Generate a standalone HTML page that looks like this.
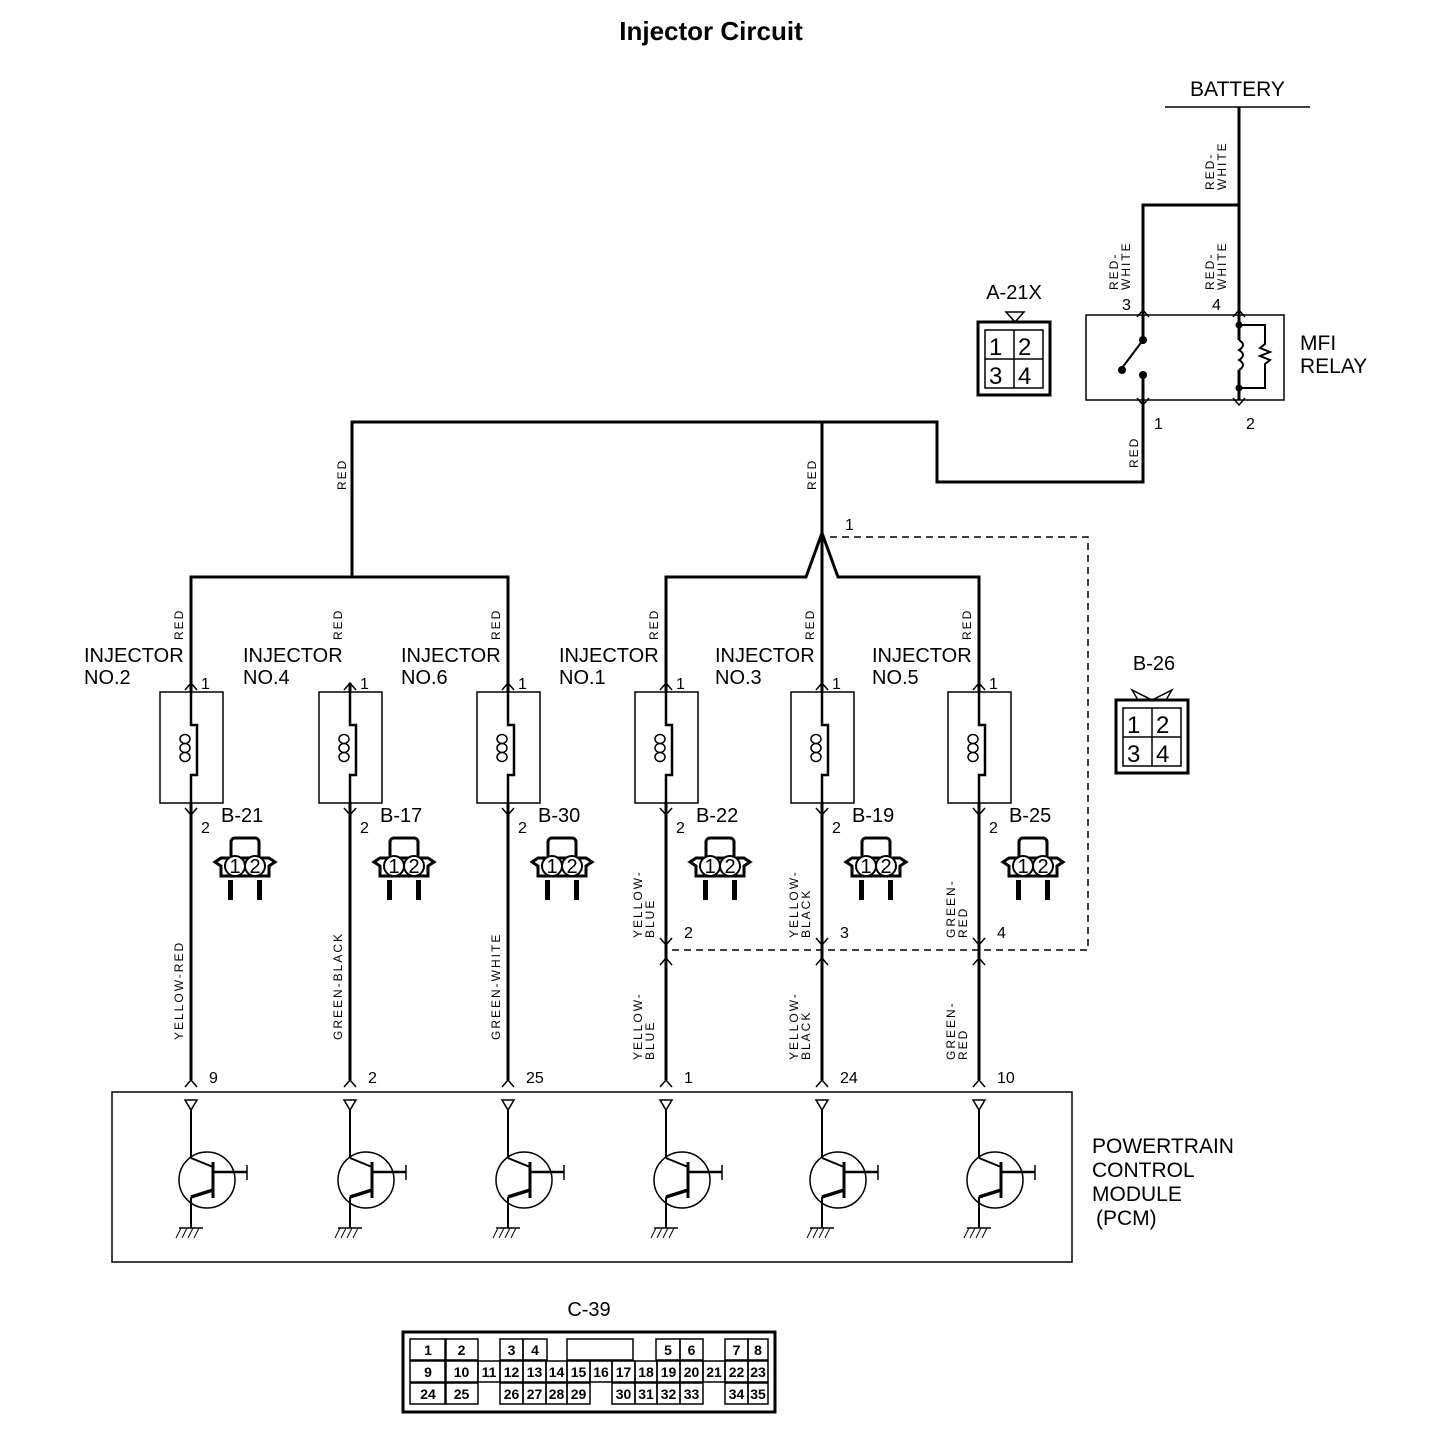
<!DOCTYPE html>
<html><head><meta charset="utf-8"><style>
body{margin:0;background:#fff}
svg{display:block}
text{font-family:"Liberation Sans",sans-serif;fill:#000}
</style></head><body>
<svg id="s" width="1440" height="1446" viewBox="0 0 1440 1446" xmlns="http://www.w3.org/2000/svg">
<g fill="none" stroke="#000" stroke-width="3">
<line x1="1165" y1="107" x2="1310" y2="107" stroke-width="1.5"/>
<polyline points="1239,107 1239,315"/>
<polyline points="1143,315 1143,205 1239,205"/>
<polyline points="1143,400 1143,482 937,482 937,422 352,422 352,577"/>
<line x1="822" y1="422" x2="822" y2="1080"/>
<polyline points="191,683 191,577 508,577 508,683"/>
<polyline points="666,683 666,577 806,577 822,533 838,577 979,577 979,683"/>
<polyline points="830,537 1088,537 1088,950 668,950" stroke-width="1.5" stroke-dasharray="7,5"/>
<rect x="1086" y="315" width="198" height="85" stroke-width="1.5"/>
<line x1="1143" y1="315" x2="1143" y2="340"/>
<line x1="1143" y1="340" x2="1122" y2="368" stroke-width="2"/>
<line x1="1143" y1="375" x2="1143" y2="400"/>
<polyline points="1239,315 1239,340" />
<path d="M1239,340 q8,5 0,10 q8,5 0,10 q8,5 0,10" stroke-width="2"/>
<polyline points="1239,370 1239,400"/>
<polyline points="1239,325 1265,325 1265,344 1260,348 1270,352 1260,356 1270,360 1265,364 1265,388 1239,388" stroke-width="2"/>
<g stroke-width="1.5"><polyline points="1137,317 1143,310 1149,317"/><polyline points="1233,317 1239,310 1245,317"/><polyline points="1137,398 1143,405 1149,398"/><polyline points="1233,398 1239,405 1245,398"/></g>
<rect x="978" y="322" width="72" height="73" stroke-width="3"/>
<rect x="985" y="330" width="58" height="58" stroke-width="1.5"/>
<line x1="985" y1="359" x2="1043" y2="359" stroke-width="1.5"/>
<line x1="1014" y1="330" x2="1014" y2="388" stroke-width="1.5"/>
<polygon points="1006,312 1024,312 1015,322" stroke-width="1.5"/>
<rect x="112" y="1092" width="960" height="170" stroke-width="1.5"/>
<rect x="1116" y="700" width="72" height="73" stroke-width="3"/>
<rect x="1123" y="708" width="58" height="58" stroke-width="1.5"/>
<line x1="1123" y1="737" x2="1181" y2="737" stroke-width="1.5"/>
<line x1="1152" y1="708" x2="1152" y2="766" stroke-width="1.5"/>
<polyline points="1138,700 1132,690 1152,700 1172,690 1166,700" stroke-width="1.5"/>
<rect x="403" y="1332" width="372" height="80" stroke-width="3"/>
</g>
<g fill="#000">
<circle cx="1143" cy="340" r="4"/><circle cx="1122" cy="370" r="4"/><circle cx="1143" cy="375" r="4"/>
<circle cx="1239" cy="325" r="3.5"/><circle cx="1239" cy="388" r="3.5"/>
</g>
<g id="dyn"></g>
<text x="711" y="40" font-size="26" font-weight="bold" text-anchor="middle">Injector  Circuit</text>
<text x="1190" y="96" font-size="21">BATTERY</text>
<text x="1300" y="350" font-size="21">MFI</text>
<text x="1300" y="373" font-size="21">RELAY</text>
<text x="1122" y="310" font-size="16">3</text><text x="1212" y="310" font-size="16">4</text>
<text x="1154" y="429" font-size="16">1</text><text x="1246" y="429" font-size="16">2</text>
<text x="1014" y="299" font-size="20" text-anchor="middle">A-21X</text>
<g font-size="24"><text x="989" y="355">1</text><text x="1018" y="355">2</text><text x="989" y="384">3</text><text x="1018" y="384">4</text></g>
<text x="1154" y="670" font-size="20" text-anchor="middle">B-26</text>
<g font-size="24"><text x="1127" y="733">1</text><text x="1156" y="733">2</text><text x="1127" y="762">3</text><text x="1156" y="762">4</text></g>
<text x="845" y="530" font-size="16">1</text>
<text x="1092" y="1153" font-size="21">POWERTRAIN</text>
<text x="1092" y="1177" font-size="21">CONTROL</text>
<text x="1092" y="1201" font-size="21">MODULE</text>
<text x="1096" y="1225" font-size="21">(PCM)</text>
<text x="589" y="1316" font-size="20" text-anchor="middle">C-39</text>
</svg>
<script>
const NS="http://www.w3.org/2000/svg",g=document.getElementById('dyn');
function el(t,a,txt){const e=document.createElementNS(NS,t);for(const k in a)e.setAttribute(k,a[k]);if(txt!==undefined)e.textContent=txt;g.appendChild(e);return e;}
function vt(x,y,s,fs){el('text',{x:x,y:y,'font-size':fs||12,transform:`rotate(-90 ${x} ${y})`,'letter-spacing':'2'},s);}
function vt2(x,y,a,b){vt(x,y,a);vt(x+12,y,b);}
vt2(1214,190,'RED-','WHITE');vt2(1118,290,'RED-','WHITE');vt2(1214,290,'RED-','WHITE');
vt(1138,468,'RED');vt(346,490,'RED');vt(816,490,'RED');
const inj=[[191,'NO.2','B-21','YELLOW-RED',null,'9'],[350,'NO.4','B-17','GREEN-BLACK',null,'2'],[508,'NO.6','B-30','GREEN-WHITE',null,'25'],
[666,'NO.1','B-22',['YELLOW-','BLUE'],'2','1'],[822,'NO.3','B-19',['YELLOW-','BLACK'],'3','24'],[979,'NO.5','B-25',['GREEN-','RED'],'4','10']];
const ar=(x,y,up)=>el('polyline',{points:up?`${x-6},${y+7} ${x},${y} ${x+6},${y+7}`:`${x-6},${y-7} ${x},${y} ${x+6},${y-7}`,fill:'none',stroke:'#000','stroke-width':1.5});
inj.forEach(([x,no,b,w,j,p])=>{
 el('line',{x1:x,y1:683,x2:x,y2:1080,stroke:'#000','stroke-width':3});
 el('rect',{x:x-31,y:692,width:63,height:111,fill:'#fff',stroke:'#000','stroke-width':1.5});
 el('path',{d:`M${x},692 V725 h6 V775 h-6 V803`,fill:'#fff',stroke:'#000','stroke-width':2.5});
 for(let i=0;i<3;i++)el('ellipse',{cx:x-6,cy:739+i*9,rx:5,ry:4.5,fill:'none',stroke:'#000','stroke-width':1.5});
 ar(x,683,true);ar(x,815,false);
 el('text',{x:x+10,y:689,'font-size':16},'1');el('text',{x:x+10,y:833,'font-size':16},'2');
 el('text',{x:x-107,y:662,'font-size':20},'INJECTOR');el('text',{x:x-107,y:684,'font-size':20},no);
 vt(x-8,640,'RED');
 const cx=x+54,cy=866;
 el('rect',{x:cx-14,y:838,width:28,height:22,rx:4,fill:'none',stroke:'#000','stroke-width':3});
 el('path',{d:`M${cx-30},${cy-4} l6,-4 h48 l6,4 l-6,4 v10 h-48 v-10 z`,fill:'#fff',stroke:'#000','stroke-width':3});
 el('circle',{cx:cx-10,cy:cy,r:10,fill:'#fff',stroke:'#000','stroke-width':2});
 el('circle',{cx:cx+10,cy:cy,r:10,fill:'#fff',stroke:'#000','stroke-width':2});
 el('text',{x:cx-10,y:cy+7,'font-size':20,'text-anchor':'middle'},'1');el('text',{x:cx+10,y:cy+7,'font-size':20,'text-anchor':'middle'},'2');
 el('rect',{x:cx-17,y:cy+14,width:5,height:20,fill:'#000'});el('rect',{x:cx+12,y:cy+14,width:5,height:20,fill:'#000'});
 el('text',{x:x+30,y:822,'font-size':20},b);
 if(j){vt2(x-24,938,w[0],w[1]);vt2(x-24,1060,w[0],w[1]);ar(x,945,false);ar(x,958,true);el('text',{x:x+18,y:938,'font-size':16},j);}
 else vt(x-8,1040,w);
 ar(x,1080,true);
 el('text',{x:x+18,y:1083,'font-size':16},p);
 el('polygon',{points:`${x-6},1100 ${x+6},1100 ${x},1110`,fill:'none',stroke:'#000','stroke-width':1.5});
 el('line',{x1:x,y1:1110,x2:x,y2:1158,stroke:'#000','stroke-width':2});
 el('circle',{cx:x+16,cy:1180,r:28,fill:'none',stroke:'#000','stroke-width':1.5});
 el('line',{x1:x+22,y1:1162,x2:x+22,y2:1198,stroke:'#000','stroke-width':3});
 el('line',{x1:x+22,y1:1172,x2:x+56,y2:1172,stroke:'#000','stroke-width':2.5});
 el('line',{x1:x+56,y1:1165,x2:x+56,y2:1180,stroke:'#000','stroke-width':1.5});
 el('line',{x1:x,y1:1158,x2:x+22,y2:1167,stroke:'#000','stroke-width':2});
 el('line',{x1:x+22,y1:1190,x2:x,y2:1197,stroke:'#000','stroke-width':3.5});
 el('line',{x1:x,y1:1197,x2:x,y2:1228,stroke:'#000','stroke-width':2});
 el('line',{x1:x-12,y1:1228,x2:x+12,y2:1228,stroke:'#000','stroke-width':1.5});
 for(let i=0;i<4;i++)el('line',{x1:x-10+i*6,y1:1228,x2:x-15+i*6,y2:1238,stroke:'#000','stroke-width':1});
});
const cells=[[1,410,446,0],[2,445,478,0],[3,500,523,0],[4,523,547,0],['',567,633,0],[5,656,680,0],[6,680,703,0],[7,725,748,0],[8,748,768,0],
[9,410,446,1],[10,445,478,1],[11,478,500,1],[12,500,523,1],[13,523,546,1],[14,546,567,1],[15,567,590,1],[16,590,612,1],[17,612,635,1],[18,635,657,1],[19,657,680,1],[20,680,703,1],[21,703,725,1],[22,725,748,1],[23,748,768,1],
[24,410,446,2],[25,445,478,2],[26,500,523,2],[27,523,546,2],[28,546,567,2],[29,567,590,2],[30,612,635,2],[31,635,657,2],[32,657,680,2],[33,680,703,2],[34,725,748,2],[35,748,768,2]];
cells.forEach(([n,a,b,r])=>{const y=1339+r*22;
 el('rect',{x:a,y:y,width:b-a,height:21,fill:'none',stroke:'#000','stroke-width':1.5});
 if(n!=='')el('text',{x:(a+b)/2,y:y+16,'font-size':14,'font-weight':'bold','text-anchor':'middle'},String(n));});
</script>
</body></html>
